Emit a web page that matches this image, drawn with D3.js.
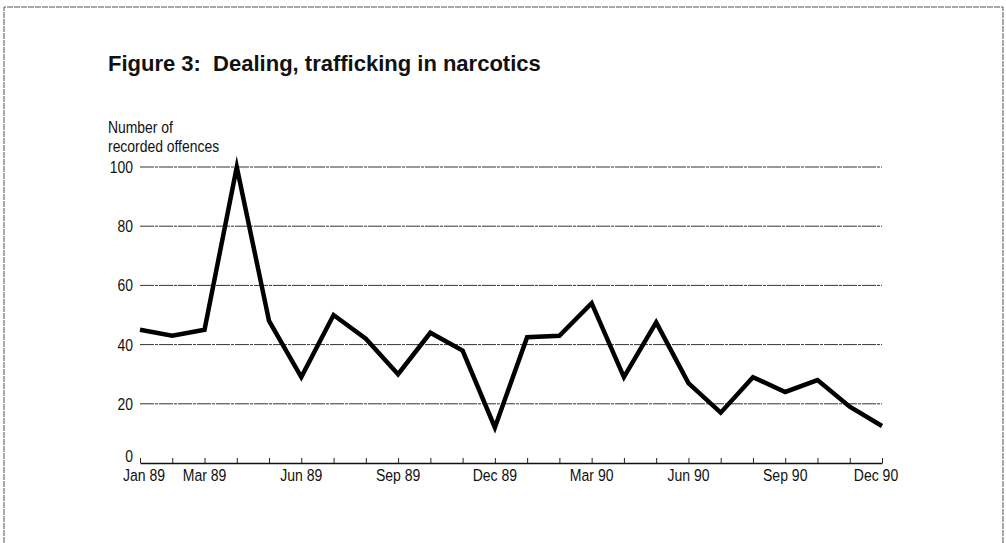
<!DOCTYPE html>
<html>
<head>
<meta charset="utf-8">
<script src="https://cdn.jsdelivr.net/npm/d3@7"></script>
<style>
  body { margin: 0; background: #fff; }
  text { fill: #111; }
</style>
</head>
<body>
<svg id="chart" width="1006" height="543"></svg>
<script>
// monthly recorded offences, Jan 89 - Dec 90
var months = ['Jan 89','Feb 89','Mar 89','Apr 89','May 89','Jun 89','Jul 89','Aug 89','Sep 89','Oct 89','Nov 89','Dec 89',
              'Jan 90','Feb 90','Mar 90','Apr 90','May 90','Jun 90','Jul 90','Aug 90','Sep 90','Oct 90','Nov 90','Dec 90'];
var offences = [45, 43, 45, 100, 48, 29, 50, 42, 30, 44, 38, 12,
                42.5, 43, 54, 29, 47.5, 27, 17, 29, 24, 28, 19, 12.5];
var xLabels = ['Jan 89','Mar 89','Jun 89','Sep 89','Dec 89','Mar 90','Jun 90','Sep 90','Dec 90'];
var yTicks = [0, 20, 40, 60, 80, 100];

var svg = d3.select('#chart');
var font = '"Liberation Sans", Arial, sans-serif';

// no condensed face installed, so squash the regular one
function narrowText(sel, px, py, anchor, size, squeeze) {
  return sel.append('text')
    .attr('transform', 'translate(' + px + ',' + py + ') scale(' + (squeeze || 0.82) + ',1)')
    .attr('text-anchor', anchor || 'start')
    .style('font-family', font)
    .style('font-size', (size || 17) + 'px');
}

// frame
svg.append('path')
   .attr('d', 'M4,543 V7 H1003 V543')
   .attr('fill', 'none')
   .attr('stroke', '#555')
   .attr('stroke-width', 1)
   .attr('stroke-dasharray', '6,1');

svg.append('text')
   .attr('x', 108).attr('y', 71)
   .style('font-family', font)
   .style('font-weight', 'bold')
   .style('font-size', '22px')
   .attr('xml:space', 'preserve')
   .text('Figure 3:  Dealing, trafficking in narcotics');

narrowText(svg, 108, 133, 'start', 16, 0.87).text('Number of');
narrowText(svg, 108, 152, 'start', 16, 0.87).text('recorded offences');

var x = d3.scalePoint().domain(months).range([140, 882]);
var y = d3.scaleLinear().domain([0, 100]).range([463, 167]);

// gridlines
svg.append('g')
   .selectAll('line')
   .data(yTicks.filter(function (d) { return d > 0; }))
   .enter().append('line')
   .attr('x1', 140).attr('x2', 882)
   .attr('y1', function (d) { return y(d); })
   .attr('y2', function (d) { return y(d); })
   .attr('stroke', '#333')
   .attr('stroke-width', 1)
   .attr('stroke-dasharray', '14,1,3,1');

// y labels
var gy = svg.append('g');
yTicks.forEach(function (d) {
  narrowText(gy, 133, d === 0 ? y(d) - 1 : y(d) + 6, 'end').text(d);
});

// x axis, ticks pointing up
var xAxis = d3.axisBottom(x).tickSize(-5).tickFormat('').tickSizeOuter(0);
var gx = svg.append('g').attr('transform', 'translate(0,463)').call(xAxis);
gx.select('.domain').attr('stroke', '#111').attr('stroke-width', 1.6);
gx.selectAll('.tick line').attr('stroke', '#222').attr('stroke-width', 1);

var gl = svg.append('g');
xLabels.forEach(function (d, i) {
  var nudge = i === 0 ? 4 : (i === xLabels.length - 1 ? -6 : 0);
  narrowText(gl, x(d) + nudge, 480.5, 'middle', 16.5, 0.85).text(d);
});

var line = d3.line()
   .x(function (d, i) { return x(months[i]); })
   .y(function (d) { return y(d); });

svg.append('path')
   .datum(offences)
   .attr('d', line)
   .attr('fill', 'none')
   .attr('stroke', '#000')
   .attr('stroke-width', 4.5)
   .attr('stroke-linejoin', 'miter')
   .attr('stroke-miterlimit', 10);
</script>
</body>
</html>
